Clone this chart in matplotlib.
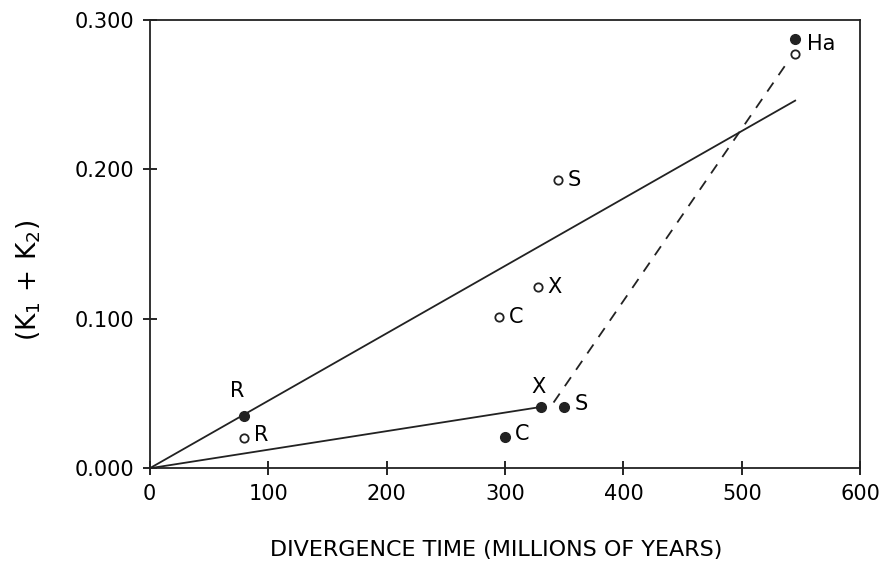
import matplotlib.pyplot as plt

# divergence time (Myr) and K1 + K2 values
labels = ['R', 'C', 'X', 'S', 'Ha']
div_time_open = [80, 295, 328, 345, 545]
k_open = [0.020, 0.101, 0.121, 0.193, 0.277]
div_time_filled = [80, 300, 330, 350, 545]
k_filled = [0.035, 0.021, 0.041, 0.041, 0.287]

upper_line_x = [0, 545]
upper_line_y = [0.0, 0.246]
lower_line_x = [0, 330]
lower_line_y = [0.0, 0.041]
dash_line_x = [341, 537]
dash_line_y = [0.044, 0.270]

xticks = [0, 100, 200, 300, 400, 500, 600]
yticks = [0.0, 0.1, 0.2, 0.3]

plt.rcParams['font.family'] = ['DejaVu Sans']

fig = plt.figure(figsize=(8.86, 5.69), dpi=100)
ax = fig.add_axes([0.169, 0.177, 0.802, 0.788])

ax.plot(upper_line_x, upper_line_y, color='#222222', lw=1.3)
ax.plot(lower_line_x, lower_line_y, color='#222222', lw=1.3)
ax.plot(dash_line_x, dash_line_y, color='#222222', lw=1.3, ls=(0, (6, 5)))

ax.plot(div_time_open, k_open, 'o', ms=6, mfc='white', mec='#222222', mew=1.3, ls='none')
ax.plot(div_time_filled, k_filled, 'o', ms=7, color='#222222', ls='none')

# labels next to points
fs = 15
ax.text(div_time_filled[0] - 6, k_filled[0] + 0.010, 'R', fontsize=fs, ha='center', va='bottom')
ax.text(div_time_open[0] + 8, k_open[0] + 0.002, 'R', fontsize=fs, ha='left', va='center')
ax.text(div_time_filled[1] + 8, k_filled[1] + 0.002, 'C', fontsize=fs, ha='left', va='center')
ax.text(div_time_filled[2] - 2, k_filled[2] + 0.007, 'X', fontsize=fs, ha='center', va='bottom')
ax.text(div_time_filled[3] + 9, k_filled[3] + 0.002, 'S', fontsize=fs, ha='left', va='center')
ax.text(div_time_filled[4] + 10, k_filled[4] - 0.003, 'Ha', fontsize=fs, ha='left', va='center')
for x, y, s in zip(div_time_open[1:4], k_open[1:4], labels[1:4]):
    ax.text(x + 8, y, s, fontsize=fs, ha='left', va='center')

ax.set_xlim(0, 600)
ax.set_ylim(0, 0.3)
ax.set_xticks(xticks)
ax.set_yticks(yticks)
ax.set_yticklabels([f'{v:.3f}' for v in yticks])
ax.tick_params(direction='inout', length=10, width=1.2, labelsize=15, pad=6)
for sp in ax.spines.values():
    sp.set_linewidth(1.3)
    sp.set_color('#222222')

ax.set_xlabel('DIVERGENCE TIME (MILLIONS OF YEARS)', fontsize=16)
ax.xaxis.set_label_coords(0.487, -0.16)
ax.set_ylabel(r'$(\mathrm{K}_1\,+\,\mathrm{K}_2)$', fontsize=19)
ax.yaxis.set_label_coords(-0.15, 0.42)

fig.savefig('out.png', dpi=100)
